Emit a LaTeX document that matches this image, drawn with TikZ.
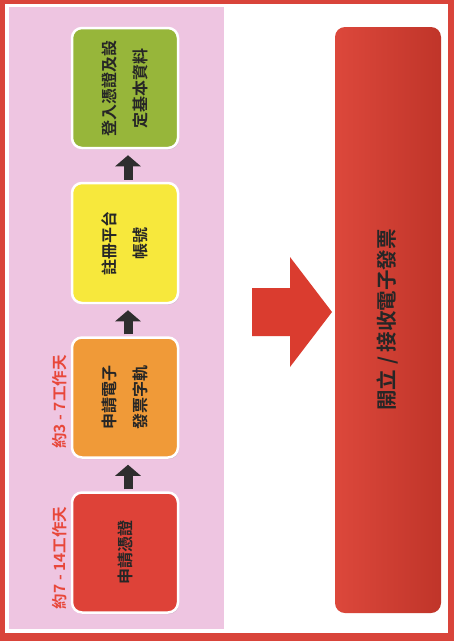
\documentclass[tikz,border=0pt]{standalone}
\usepackage{fontspec}
\newfontfamily\cjk{Noto Sans CJK TC}[BoldFont={Noto Sans CJK TC Bold}]
\usetikzlibrary{arrows.meta,shadows}
\definecolor{frame}{HTML}{D9443A}
\definecolor{pinkbg}{HTML}{EEC5E1}
\definecolor{boxgreen}{HTML}{97B63A}
\definecolor{boxyellow}{HTML}{F7E83C}
\definecolor{boxorange}{HTML}{F09A38}
\definecolor{boxred}{HTML}{DE4238}
\definecolor{bigred}{HTML}{DA3C2F}
\definecolor{labelred}{HTML}{E8473A}
\definecolor{arrowgray}{HTML}{2E2E2E}
\tikzset{
  stepbox/.style={rotate=90, rounded corners=10pt, draw=white, line width=2.5pt,
    minimum width=120pt, minimum height=106pt, align=center, inner sep=0pt,
    font=\cjk\bfseries\fontsize{16}{31}\selectfont, text=black!85,
    drop shadow={opacity=0.25, shadow xshift=1pt, shadow yshift=-1.5pt}},
  flow/.style={arrowgray, line width=9pt, shorten <=2pt, shorten >=6pt,
    -{Triangle[length=11pt,width=25pt]}},
  daylabel/.style={rotate=90, text=labelred, font=\cjk\bfseries\fontsize{15.5}{18}\selectfont, inner sep=0pt}
}
\begin{document}
\begin{tikzpicture}[x=1pt,y=-1pt]
\useasboundingbox (0,0) rectangle (454,641);
% frame and backgrounds
\fill[frame] (0,0) rectangle (454,641);
\fill[white] (5,4) rectangle (448,633);
\fill[pinkbg] (9,7) rectangle (224,629);
% steps
\node[stepbox, fill=boxgreen] (login) at (125,88) {登入憑證及設\\定基本資料};
\node[stepbox, fill=boxyellow] (reg) at (125,243) {註冊平台\\帳號};
\node[stepbox, fill=boxorange] (track) at (125,397.5) {申請電子\\發票字軌};
\node[stepbox, fill=boxred] (cert) at (125,552.5) {申請憑證};
% arrows between steps
\draw[flow] ([xshift=3pt]cert.east) -- ([xshift=3pt]track.west);
\draw[flow] ([xshift=3pt]track.east) -- ([xshift=3pt]reg.west);
\draw[flow] ([xshift=3pt]reg.east) -- ([xshift=3pt]login.west);
% day labels
\node[daylabel] (d1) at (60,558) {約7 - 14工作天};
\node[daylabel] (d2) at (60,402) {約3 - 7工作天};
% big arrow
\fill[bigred] (252,288) -- (290,288) -- (290,257) -- (332,312) -- (290,367) -- (290,336) -- (252,336) -- cycle;
% result
\node[rotate=90, rounded corners=10pt, minimum width=586pt, minimum height=106pt,
  left color=bigred!94!white, right color=bigred!88!black,
  inner sep=0pt, font=\cjk\bfseries\fontsize{20.5}{24}\selectfont, text=black!85]
  (result) at (388,320) {開立 / 接收電子發票};
\end{tikzpicture}
\end{document}
